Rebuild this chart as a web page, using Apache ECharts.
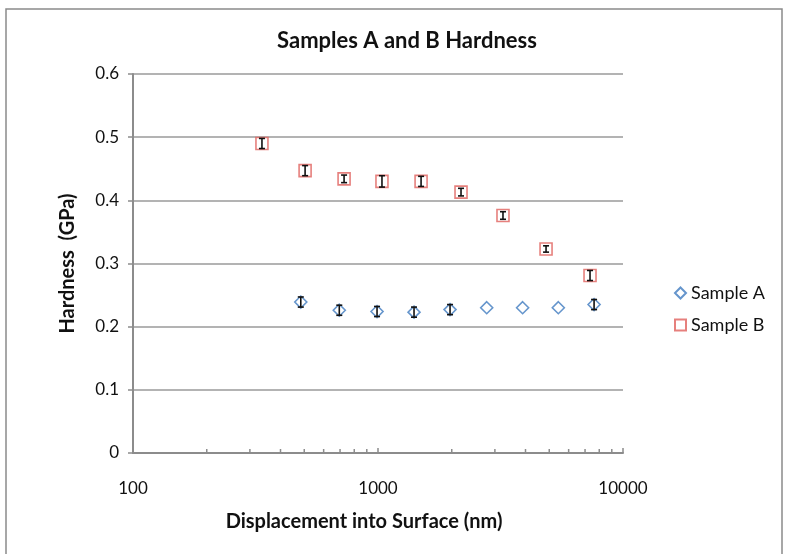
<!DOCTYPE html>
<html>
<head>
<meta charset="utf-8">
<script src="https://cdn.jsdelivr.net/npm/echarts@6/dist/echarts.min.js"></script>
<style>
  html, body { margin: 0; padding: 0; background: #fff; }
  #main { width: 795px; height: 554px; }
</style>
</head>
<body>
<div id="main"></div>
<script>
// displacement (nm), hardness (GPa), error (GPa)
var dispA = [484, 695, 991, 1403, 1968, 2778, 3893, 5445, 7620];
var hardA = [0.239, 0.226, 0.224, 0.223, 0.227, 0.230, 0.230, 0.230, 0.235];
var errA = [0.008, 0.008, 0.008, 0.008, 0.008, 0, 0, 0, 0.008];

var dispB = [336, 504, 727, 1038, 1499, 2182, 3237, 4852, 7335];
var hardB = [0.490, 0.447, 0.434, 0.430, 0.430, 0.413, 0.376, 0.323, 0.281];
var errB = [0.008, 0.008, 0.006, 0.009, 0.008, 0.006, 0.006, 0.005, 0.008];

var minorTicks = [200, 300, 400, 500, 600, 700, 800, 900, 2000, 3000, 4000, 5000, 6000, 7000, 8000, 9000];
var yTicks = ["0", "0.1", "0.2", "0.3", "0.4", "0.5", "0.6"];

var font = "Lato, 'Open Sans', sans-serif";

function pts(xs, ys, es) {
  return xs.map(function (x, i) { return [x, ys[i], es[i]]; });
}

function errorBars(params, api) {
  var x = api.value(0), y = api.value(1), e = api.value(2);
  if (!e) return null;
  var hi = api.coord([x, y + e]);
  var lo = api.coord([x, y - e]);
  var w = 3;
  var st = { stroke: "#111", lineWidth: 1.6 };
  return {
    type: "group",
    children: [
      { type: "line", shape: { x1: hi[0], y1: hi[1], x2: lo[0], y2: lo[1] }, style: st },
      { type: "line", shape: { x1: hi[0] - w, y1: hi[1], x2: hi[0] + w, y2: hi[1] }, style: st },
      { type: "line", shape: { x1: lo[0] - w, y1: lo[1], x2: lo[0] + w, y2: lo[1] }, style: st }
    ]
  };
}

var myChart = echarts.init(document.getElementById("main"), null, { renderer: "canvas" });

var option = {
  animation: false,
  backgroundColor: "#fff",
  textStyle: { fontFamily: font },
  graphic: [
    {
      type: "rect",
      shape: { x: 6, y: 9, width: 776, height: 560 },
      style: { fill: "none", stroke: "#8a8a8a", lineWidth: 1.5 },
      silent: true
    }
  ],
  title: {
    text: "Samples A and B Hardness",
    left: 402,
    top: 25,
    textAlign: "center",
    textStyle: { fontFamily: font, fontSize: 22, fontWeight: "bold", color: "#111" }
  },
  legend: {
    orient: "vertical",
    left: 669,
    top: 279,
    itemWidth: 11,
    itemHeight: 11,
    itemGap: 14,
    data: ["Sample A", "Sample B"],
    textStyle: { fontFamily: font, fontSize: 18, color: "#111" }
  },
  grid: { left: 133, right: 172, top: 74, bottom: 101 },
  xAxis: {
    type: "log",
    logBase: 10,
    min: 100,
    max: 10000,
    name: "Displacement into Surface (nm)",
    nameLocation: "middle",
    nameGap: 59,
    nameTextStyle: {
      fontFamily: font, fontSize: 20, fontWeight: "bold", color: "#111",
      padding: [0, 28, 0, 0]
    },
    axisLine: { lineStyle: { color: "#8c8c8c", width: 2 } },
    axisTick: { inside: true, length: 5, lineStyle: { color: "#8c8c8c", width: 1.5 } },
    axisLabel: {
      fontFamily: font, fontSize: 17, color: "#111", margin: 27,
      formatter: function (v) { return String(Math.round(v)); }
    },
    splitLine: { show: false }
  },
  yAxis: {
    type: "value",
    min: 0,
    max: 0.6,
    interval: 0.1,
    name: "Hardness  (GPa)",
    nameLocation: "middle",
    nameGap: 55,
    nameTextStyle: { fontFamily: font, fontSize: 20, fontWeight: "bold", color: "#111" },
    axisLine: { show: true, lineStyle: { color: "#8c8c8c", width: 2 } },
    axisTick: { show: true, length: 5, lineStyle: { color: "#8c8c8c", width: 1.5 } },
    axisLabel: {
      fontFamily: font, fontSize: 17, color: "#111", margin: 14,
      formatter: function (v) { return yTicks[Math.round(v * 10)]; }
    },
    splitLine: { lineStyle: { color: "#9a9a9a", width: 1.5 } }
  },
  series: [
    {
      name: "Sample A",
      type: "scatter",
      symbol: "diamond",
      symbolSize: [12, 12],
      itemStyle: { color: "#fff", borderColor: "#3f7bbf", borderWidth: 1.6 },
      data: pts(dispA, hardA, errA),
      z: 3
    },
    {
      name: "Sample B",
      type: "scatter",
      symbol: "rect",
      symbolSize: 12,
      itemStyle: { color: "#fff", borderColor: "#e0605c", borderWidth: 1.6 },
      data: pts(dispB, hardB, errB),
      z: 3
    },
    {
      type: "custom",
      renderItem: errorBars,
      data: pts(dispA, hardA, errA),
      z: 4,
      silent: true
    },
    {
      type: "custom",
      renderItem: errorBars,
      data: pts(dispB, hardB, errB),
      z: 4,
      silent: true
    },
    {
      type: "custom",
      clip: false,
      silent: true,
      z: 5,
      data: minorTicks.map(function (t) { return [t, 0]; }),
      renderItem: function (params, api) {
        var p = api.coord([api.value(0), 0]);
        return {
          type: "line",
          shape: { x1: p[0], y1: p[1], x2: p[0], y2: p[1] - 4 },
          style: { stroke: "#8c8c8c", lineWidth: 1.5 }
        };
      }
    }
  ]
};

myChart.setOption(option);
window.addEventListener("resize", myChart.resize);
</script>
</body>
</html>
